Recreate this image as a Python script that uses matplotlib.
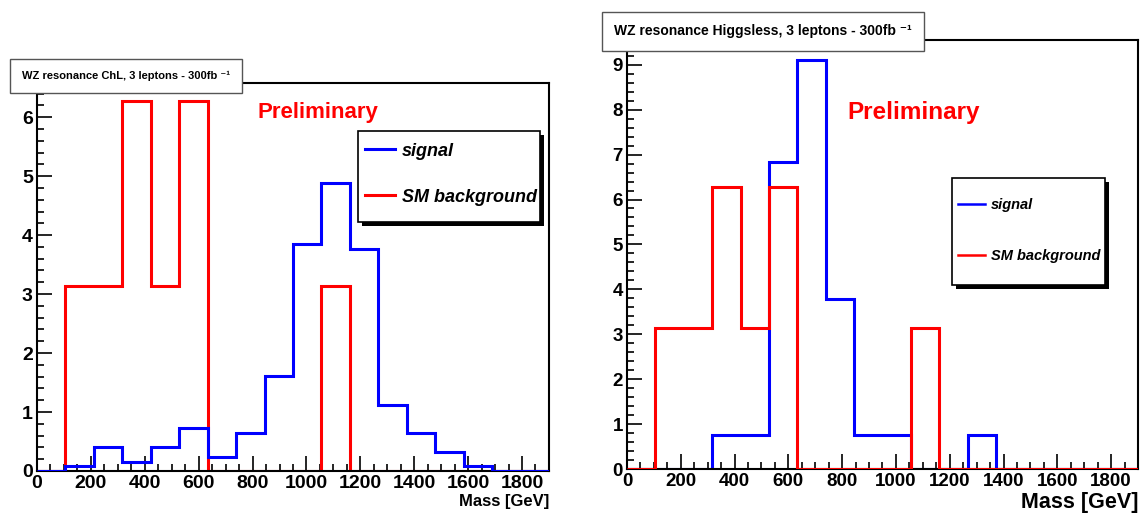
import matplotlib
matplotlib.use("Agg")
import matplotlib.pyplot as plt
from matplotlib.ticker import MultipleLocator
from matplotlib.patches import Rectangle
import numpy as np

plt.rcParams['font.family'] = ['Liberation Sans', 'DejaVu Sans']

# 18 bins from 0 to 1900 GeV
edges = np.linspace(0, 1900, 19)

# left panel: ChL model
chl_signal = [0, 0.08, 0.40, 0.16, 0.40, 0.73, 0.24, 0.64, 1.61, 3.85,
              4.89, 3.77, 1.12, 0.64, 0.32, 0.08, 0, 0]
chl_bkg = [0, 3.14, 3.14, 6.27, 3.14, 6.27, 0, 0, 0, 0,
           3.14, 0, 0, 0, 0, 0, 0, 0]

# right panel: Higgsless model
hl_signal = [0, 0, 0, 0.76, 0.76, 6.83, 9.10, 3.79, 0.76, 0.76,
             0, 0, 0.76, 0, 0, 0, 0, 0]
hl_bkg = [0, 3.14, 3.14, 6.27, 3.14, 6.27, 0, 0, 0, 0,
          3.14, 0, 0, 0, 0, 0, 0, 0]

titles = ["WZ resonance ChL, 3 leptons - 300fb \u207b\u00b9",
          "WZ resonance Higgsless, 3 leptons - 300fb \u207b\u00b9"]

fig = plt.figure(figsize=(11.42, 5.14), dpi=100)
ax1 = fig.add_axes([0.0324, 0.0837, 0.4483, 0.7549])
ax2 = fig.add_axes([0.549, 0.0875, 0.4475, 0.8346])


def style_axis(ax, ymax, ticksize, labelsize):
    ax.set_xlim(0, 1900)
    ax.set_ylim(0, ymax)
    ax.xaxis.set_major_locator(MultipleLocator(200))
    ax.xaxis.set_minor_locator(MultipleLocator(50))
    ax.yaxis.set_major_locator(MultipleLocator(1))
    ax.yaxis.set_minor_locator(MultipleLocator(0.2))
    ax.tick_params(which='both', direction='in', top=False, right=False,
                   labelsize=ticksize, width=1.2, pad=3)
    ax.tick_params(which='major', length=11)
    ax.tick_params(which='minor', length=5)
    for lab in ax.get_xticklabels() + ax.get_yticklabels():
        lab.set_fontweight('bold')
    for sp in ax.spines.values():
        sp.set_linewidth(1.5)
    ax.set_xlabel("Mass [GeV]", loc='right', fontsize=labelsize,
                  fontweight='bold', labelpad=1)


def legend_box(ax, x0, x1, y0, y1, dx, dy):
    # ROOT style box with a black drop shadow
    ax.add_patch(Rectangle((x0 + dx, y0 + dy), x1 - x0, y1 - y0,
                           transform=ax.transAxes, fc='black', ec='none', zorder=5))
    ax.add_patch(Rectangle((x0, y0), x1 - x0, y1 - y0, transform=ax.transAxes,
                           fc='white', ec='black', lw=1.2, zorder=6))


# left panel: background below signal
ax1.stairs(chl_bkg, edges, color='#ff0000', lw=2.2, label='SM background', zorder=2)
ax1.stairs(chl_signal, edges, color='#0000ff', lw=2.2, label='signal', zorder=3)
style_axis(ax1, 6.58, 14, 12)
ax1.text(0.43, 0.925, "Preliminary", transform=ax1.transAxes, color='#ff0000',
         fontsize=16, fontweight='bold', ha='left', va='center')
legend_box(ax1, 0.627, 0.982, 0.642, 0.876, 0.008, -0.010)
h, l = ax1.get_legend_handles_labels()
leg1 = ax1.legend(h[::-1], l[::-1], loc='center left', bbox_to_anchor=(0.627, 0.765),
                  frameon=False,
                  prop={'weight': 'bold', 'style': 'italic', 'size': 13},
                  labelspacing=1.6, handlelength=1.65, borderpad=0.4,
                  handletextpad=0.4, borderaxespad=0)
leg1.set_zorder(7)

# right panel: background on top
ax2.stairs(hl_signal, edges, color='#0000ff', lw=2.2, label='signal', zorder=2)
ax2.stairs(hl_bkg, edges, color='#ff0000', lw=2.2, label='SM background', zorder=3)
style_axis(ax2, 9.55, 13.5, 15.5)
ax2.text(0.432, 0.83, "Preliminary", transform=ax2.transAxes, color='#ff0000',
         fontsize=17.5, fontweight='bold', ha='left', va='center')
legend_box(ax2, 0.636, 0.935, 0.429, 0.678, 0.008, -0.009)
leg2 = ax2.legend(loc='center left', bbox_to_anchor=(0.636, 0.556),
                  frameon=False,
                  prop={'weight': 'bold', 'style': 'italic', 'size': 10.5},
                  labelspacing=2.5, handlelength=1.85, borderpad=0.4,
                  handletextpad=0.4, borderaxespad=0)
leg2.set_zorder(7)
for line in leg2.get_lines():
    line.set_linewidth(1.8)

# title boxes
fig.text(126 / 1142, 1 - 76 / 514, titles[0], fontsize=8, fontweight='bold',
         ha='center', va='center',
         bbox=dict(boxstyle='square,pad=1.05', fc='white', ec='#555555', lw=1))
fig.text(763 / 1142, 1 - 31 / 514, titles[1], fontsize=10, fontweight='bold',
         ha='center', va='center',
         bbox=dict(boxstyle='square,pad=0.9', fc='white', ec='#555555', lw=1))

fig.savefig("out.png", dpi=100)
